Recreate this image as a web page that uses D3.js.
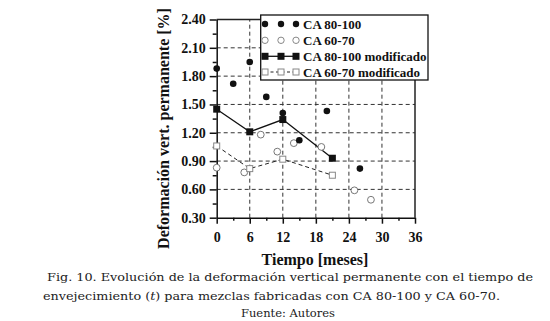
<!DOCTYPE html>
<html><head><meta charset="utf-8">
<script src="https://cdn.jsdelivr.net/npm/d3@7"></script>
<style>body{margin:0;background:#fff}svg{display:block}</style>
</head><body>
<script>
const xTicks = [0, 6, 12, 18, 24, 30, 36];
const yTicks = [0.30, 0.60, 0.90, 1.20, 1.50, 1.80, 2.10, 2.40];
const xMinor = [3, 9, 15, 21, 27, 33];
const yMinor = [0.45, 0.75, 1.05, 1.35, 1.65, 1.95, 2.25];

const ca80_t = [0, 3, 6, 9, 12, 15, 20, 26];
const ca80_v = [1.88, 1.72, 1.95, 1.58, 1.41, 1.12, 1.43, 0.82];
const ca60_t = [0, 5, 8, 11, 14, 19, 25, 28];
const ca60_v = [0.83, 0.78, 1.18, 1.00, 1.09, 1.05, 0.59, 0.49];
const ca80m_t = [0, 6, 12, 21];
const ca80m_v = [1.45, 1.21, 1.34, 0.93];
const ca60m_t = [0, 6, 12, 21];
const ca60m_v = [1.06, 0.82, 0.92, 0.75];

const legendLabels = ["CA 80-100", "CA 60-70", "CA 80-100 modificado", "CA 60-70 modificado"];
const xTitle = "Tiempo [meses]";
const yTitle = "Deformación vert. permanente [%]";
const caption = [
  "Fig. 10. Evolución de la deformación vertical permanente con el tiempo de",
  "envejecimiento (t) para mezclas fabricadas con CA 80-100 y CA 60-70.",
  "Fuente: Autores"
];

const W = 550, H = 321;
const svg = d3.select("body").append("svg").attr("width", W).attr("height", H);
const x = d3.scaleLinear().domain([0, 36]).range([216.7, 415]);
const y = d3.scaleLinear().domain([0.3, 2.4]).range([217.7, 19.5]);
const serif = "'Liberation Serif','Times New Roman',serif";

// grid
const g = svg.append("g");
g.selectAll(".gx").data(xTicks.slice(1, -1)).join("line")
  .attr("x1", d => x(d)).attr("x2", d => x(d)).attr("y1", y(0.3)).attr("y2", y(2.4))
  .attr("stroke", "#333").attr("stroke-width", 1).attr("stroke-dasharray", "4,3");
g.selectAll(".gy").data(yTicks.slice(1, -1)).join("line")
  .attr("y1", d => y(d)).attr("y2", d => y(d)).attr("x1", x(0)).attr("x2", x(36))
  .attr("stroke", "#333").attr("stroke-width", 1).attr("stroke-dasharray", "4,3");

// frame top/right
svg.append("line").attr("x1", x(0)).attr("x2", x(36)).attr("y1", y(2.4)).attr("y2", y(2.4))
  .attr("stroke", "#222").attr("stroke-width", 1.5);
svg.append("line").attr("x1", x(36)).attr("x2", x(36)).attr("y1", y(2.4)).attr("y2", y(0.3))
  .attr("stroke", "#222").attr("stroke-width", 1.5);

// axes
const xa = svg.append("g").attr("transform", `translate(0,${y(0.3)})`)
  .call(d3.axisBottom(x).tickValues(xTicks).tickFormat(d3.format("d")).tickSizeInner(6).tickSizeOuter(0).tickPadding(8));
const xm = svg.append("g").attr("transform", `translate(0,${y(0.3)})`)
  .call(d3.axisBottom(x).tickValues(xMinor).tickFormat("").tickSizeInner(3).tickSizeOuter(0));
xm.select(".domain").remove();
const ya = svg.append("g").attr("transform", `translate(${x(0)},0)`)
  .call(d3.axisLeft(y).tickValues(yTicks).tickFormat(d3.format(".2f")).tickSizeInner(7).tickSizeOuter(0).tickPadding(4));
const ym = svg.append("g").attr("transform", `translate(${x(0)},0)`)
  .call(d3.axisLeft(y).tickValues(yMinor).tickFormat("").tickSizeInner(4).tickSizeOuter(0));
ym.select(".domain").remove();
[xa, xm, ya, ym].forEach(a => {
  a.selectAll("path,line").attr("stroke", "#111").attr("stroke-width", 1.5);
  a.selectAll("text").attr("font-family", serif).attr("font-weight", "bold").attr("font-size", 14).attr("fill", "#111");
});

// titles
svg.append("text").attr("x", 315).attr("y", 265).attr("text-anchor", "middle")
  .attr("font-family", serif).attr("font-weight", "bold").attr("font-size", 16).attr("fill", "#111").text(xTitle);
svg.append("text").attr("transform", "translate(169,128.5) rotate(-90)").attr("text-anchor", "middle")
  .attr("font-family", serif).attr("font-weight", "bold").attr("font-size", 16).attr("fill", "#111").text(yTitle);

// series lines
const line = d3.line().x(d => x(d[0])).y(d => y(d[1]));
const p80m = ca80m_t.map((t, i) => [t, ca80m_v[i]]);
const p60m = ca60m_t.map((t, i) => [t, ca60m_v[i]]);
svg.append("path").attr("d", line(p60m)).attr("fill", "none").attr("stroke", "#222").attr("stroke-width", 1).attr("stroke-dasharray", "4,3");
svg.append("path").attr("d", line(p80m)).attr("fill", "none").attr("stroke", "#111").attr("stroke-width", 1.3);

// markers
svg.selectAll(".c60").data(ca60_t.map((t, i) => [t, ca60_v[i]])).join("circle")
  .attr("cx", d => x(d[0])).attr("cy", d => y(d[1])).attr("r", 3.4)
  .attr("fill", "#fff").attr("stroke", "#777").attr("stroke-width", 1);
svg.selectAll(".c80").data(ca80_t.map((t, i) => [t, ca80_v[i]])).join("circle")
  .attr("cx", d => x(d[0])).attr("cy", d => y(d[1])).attr("r", 3.3).attr("fill", "#111");
svg.selectAll(".s60").data(p60m).join("rect")
  .attr("x", d => x(d[0]) - 3).attr("y", d => y(d[1]) - 3).attr("width", 6).attr("height", 6)
  .attr("fill", "#fff").attr("stroke", "#888").attr("stroke-width", 1);
svg.selectAll(".s80").data(p80m).join("rect")
  .attr("x", d => x(d[0]) - 3.5).attr("y", d => y(d[1]) - 3.5).attr("width", 7).attr("height", 7)
  .attr("fill", "#111");

// legend
const lg = svg.append("g");
lg.append("rect").attr("x", 260.7).attr("y", 15).attr("width", 167.3).attr("height", 65)
  .attr("fill", "#fff").attr("stroke", "#111").attr("stroke-width", 1.3);
const rows = [24, 40.3, 56.3, 72];
const sx = [265, 281, 296];
legendLabels.forEach((lab, i) => {
  const ry = rows[i];
  if (i === 2) lg.append("line").attr("x1", sx[0]).attr("x2", sx[2]).attr("y1", ry).attr("y2", ry).attr("stroke", "#111").attr("stroke-width", 1.3);
  if (i === 3) lg.append("line").attr("x1", sx[0]).attr("x2", sx[2]).attr("y1", ry).attr("y2", ry).attr("stroke", "#222").attr("stroke-width", 1).attr("stroke-dasharray", "3,2.5");
  sx.forEach(cx => {
    if (i === 0) lg.append("circle").attr("cx", cx).attr("cy", ry).attr("r", 3.2).attr("fill", "#111");
    if (i === 1) lg.append("circle").attr("cx", cx).attr("cy", ry).attr("r", 3.2).attr("fill", "#fff").attr("stroke", "#888");
    if (i === 2) lg.append("rect").attr("x", cx - 3.5).attr("y", ry - 3.5).attr("width", 7).attr("height", 7).attr("fill", "#111");
    if (i === 3) lg.append("rect").attr("x", cx - 3).attr("y", ry - 3).attr("width", 6).attr("height", 6).attr("fill", "#fff").attr("stroke", "#888");
  });
  lg.append("text").attr("x", 303).attr("y", ry + 4.5).attr("font-family", serif).attr("font-weight", "bold")
    .attr("font-size", 13).attr("fill", "#111").text(lab);
});

// caption
const capFont = "'DejaVu Serif',serif";
const c1 = svg.append("text").attr("x", 47).attr("y", 281).attr("font-family", capFont).attr("font-size", 11.5)
  .attr("fill", "#222").attr("textLength", 486).attr("lengthAdjust", "spacingAndGlyphs").text(caption[0]);
const c2 = svg.append("text").attr("x", 43).attr("y", 300).attr("font-family", capFont).attr("font-size", 11.5)
  .attr("fill", "#222").attr("textLength", 457).attr("lengthAdjust", "spacingAndGlyphs");
c2.append("tspan").text("envejecimiento (");
c2.append("tspan").attr("font-style", "italic").text("t");
c2.append("tspan").text(caption[1].slice(caption[1].indexOf(")")));
svg.append("text").attr("x", 288).attr("y", 317).attr("text-anchor", "middle").attr("font-family", capFont).attr("font-size", 11.5)
  .attr("fill", "#222").text(caption[2]);
</script>
</body></html>
